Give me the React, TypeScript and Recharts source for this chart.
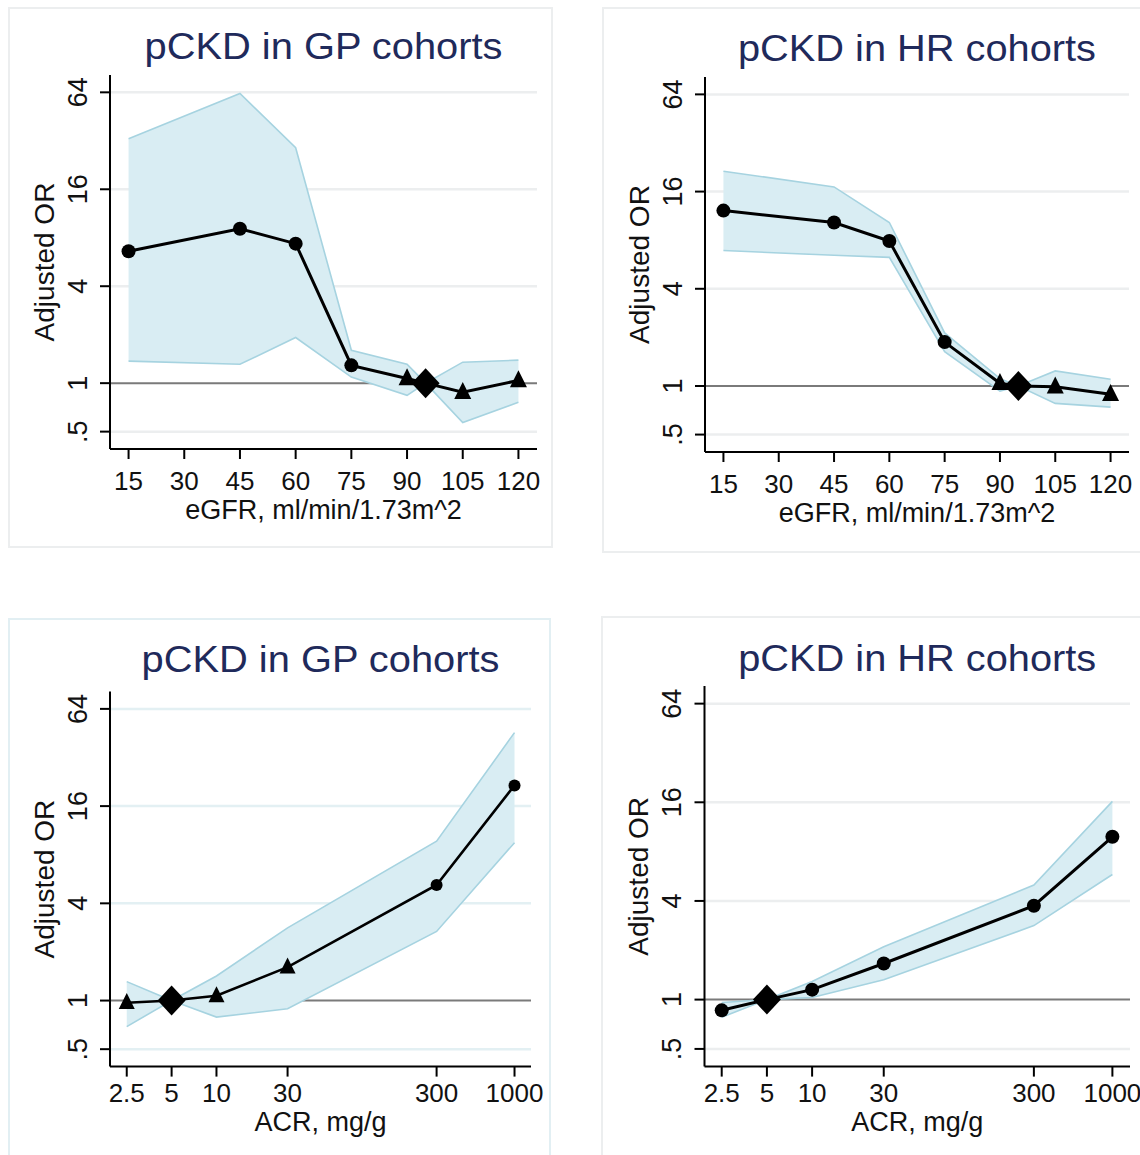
import React from 'react';
import { ComposedChart, Area, Line, XAxis, YAxis, CartesianGrid, Label } from 'recharts';

// eGFR panels (top row)
const egfrPoints = [15, 45, 60, 75, 90, 95, 105, 120];
const egfrMarkers = ['circle', 'circle', 'circle', 'circle', 'triangle', 'diamond', 'triangle', 'triangle'];
const gpEgfrOr = [6.6, 9.1, 7.35, 1.29, 1.07, 1, 0.88, 1.04];
const gpEgfrLow = [1.37, 1.31, 1.92, 1.09, 0.84, 1, 0.57, 0.76];
const gpEgfrHigh = [33, 63, 29, 1.6, 1.31, 1, 1.35, 1.39];
const hrEgfrOr = [12.2, 10.3, 7.9, 1.87, 1.04, 1, 0.99, 0.89];
const hrEgfrLow = [6.9, 6.45, 6.26, 1.63, 0.93, 1, 0.78, 0.74];
const hrEgfrHigh = [21.4, 17.1, 10.3, 2.13, 1.11, 1, 1.24, 1.1];

// ACR panels (bottom row)
const acrPoints = [2.5, 5, 10, 30, 300, 1000];
const gpAcrMarkers = ['triangle', 'diamond', 'triangle', 'triangle', 'circle', 'circle'];
const hrAcrMarkers = ['circle', 'diamond', 'circle', 'circle', 'circle', 'circle'];
const gpAcrOr = [0.97, 1, 1.07, 1.61, 5.2, 21.5];
const gpAcrLow = [0.69, 1, 0.79, 0.89, 2.68, 9.5];
const gpAcrHigh = [1.31, 1, 1.42, 2.82, 9.7, 45.6];
const hrAcrOr = [0.86, 1, 1.15, 1.66, 3.74, 9.85];
const hrAcrLow = [0.78, 1, 1.03, 1.32, 2.83, 5.8];
const hrAcrHigh = [0.96, 1, 1.29, 2.1, 5.0, 16.2];

const orTicks = [0.5, 1, 4, 16, 64];
const egfrTicks = [15, 30, 45, 60, 75, 90, 105, 120];
const acrTicks = [2.5, 5, 10, 30, 300, 1000];

const FONT = '"Liberation Sans", Arial, Helvetica, sans-serif';
const Y_W = 80;
const X_H = 80;

type Row = { x: number; or: number; band: [number, number]; marker: string };

function buildRows(xs: number[], ors: number[], lows: number[], highs: number[], markers: string[]): Row[] {
  return xs.map((x, i) => ({ x, or: ors[i], band: [lows[i], highs[i]], marker: markers[i] }));
}

const fmtOr = (v: number) => (v === 0.5 ? '.5' : String(v));

function makeDot(r: number, tri: number) {
  return (props: any) => {
    const { cx, cy, payload, index } = props;
    const key = `dot-${index}`;
    if (cx == null || cy == null) return <g key={key} />;
    if (payload.marker === 'diamond') {
      return (
        <polygon key={key} fill="#000"
          points={`${cx},${cy - 15} ${cx + 14},${cy} ${cx},${cy + 15} ${cx - 14},${cy}`} />
      );
    }
    if (payload.marker === 'triangle') {
      return (
        <polygon key={key} fill="#000"
          points={`${cx},${cy - tri * 0.6} ${cx + tri / 2},${cy + tri * 0.4} ${cx - tri / 2},${cy + tri * 0.4}`} />
      );
    }
    return <circle key={key} cx={cx} cy={cy} r={r} fill="#000" />;
  };
}

type Layout = {
  frame: { l: number; t: number; w: number; h: number };
  plot: { l: number; t: number; r: number; b: number };
  titleY: number;
  tickDy: number;
  labelDy: number;
};

type PanelProps = {
  title: string;
  xLabel: string;
  rows: Row[];
  xTicks: number[];
  xScale: 'linear' | 'log';
  xDomain: [number, number];
  layout: Layout;
  lineWidth: number;
  dotR: number;
  triSize: number;
  frameColor: string;
  gridColor: string;
};

function Panel({ title, xLabel, rows, xTicks, xScale, xDomain, layout, lineWidth, dotR, triSize, frameColor, gridColor }: PanelProps) {
  const { frame, plot } = layout;
  const plotL = plot.l - frame.l;
  const plotT = plot.t - frame.t;
  const plotR = plot.r - frame.l;
  const plotB = plot.b - frame.t;
  const margin = { left: plotL - Y_W, top: plotT, right: frame.w - plotR, bottom: frame.h - plotB - X_H };
  const centerX = (plotL + plotR) / 2;

  const xTick = (p: any) => (
    <text x={p.x} y={p.y} dy={layout.tickDy - 12} textAnchor="middle" fontSize={26} fill="#111">
      {p.payload.value}
    </text>
  );
  const yTick = (p: any) => {
    const bx = p.x - 11;
    return (
      <text x={bx} y={p.y} transform={`rotate(-90 ${bx} ${p.y})`} textAnchor="middle" fontSize={27} fill="#111">
        {fmtOr(p.payload.value)}
      </text>
    );
  };

  return (
    <div style={{ position: 'absolute', left: frame.l, top: frame.t, width: frame.w, height: frame.h }}>
      <div style={{ position: 'absolute', inset: 0, border: `2px solid ${frameColor}`, boxSizing: 'border-box' }} />
      <div style={{ position: 'absolute', left: 0, top: 0 }}>
        <ComposedChart width={frame.w} height={frame.h} data={rows} margin={margin}>
          <CartesianGrid vertical={false} horizontalValues={[0.5, 4, 16, 64]} stroke={gridColor} strokeWidth={2.5} />
          <CartesianGrid vertical={false} horizontalValues={[1]} stroke="#7a7a7a" strokeWidth={2} />
          <XAxis
            dataKey="x"
            type="number"
            scale={xScale}
            domain={xDomain}
            ticks={xTicks}
            interval={0}
            allowDataOverflow
            height={X_H}
            tickSize={10}
            axisLine={{ stroke: '#000', strokeWidth: 2 }}
            tickLine={{ stroke: '#000', strokeWidth: 2 }}
            tick={xTick}
          >
            <Label
              content={(p: any) => (
                <text x={p.viewBox.x + p.viewBox.width / 2} y={p.viewBox.y + layout.labelDy}
                  textAnchor="middle" fontSize={27} fill="#111">
                  {xLabel}
                </text>
              )}
            />
          </XAxis>
          <YAxis
            type="number"
            scale="log"
            domain={[0.39, 82]}
            ticks={orTicks}
            interval={0}
            allowDataOverflow
            width={Y_W}
            tickSize={10}
            axisLine={{ stroke: '#000', strokeWidth: 2 }}
            tickLine={{ stroke: '#000', strokeWidth: 2 }}
            tick={yTick}
          >
            <Label
              content={(p: any) => {
                const bx = p.viewBox.x + p.viewBox.width - 56;
                const cy = p.viewBox.y + p.viewBox.height / 2;
                return (
                  <text x={bx} y={cy} transform={`rotate(-90 ${bx} ${cy})`} textAnchor="middle" fontSize={28} fill="#111">
                    Adjusted OR
                  </text>
                );
              }}
            />
          </YAxis>
          <Area
            type="linear"
            dataKey="band"
            fill="#d9edf3"
            fillOpacity={1}
            stroke="#a6d3e0"
            strokeWidth={1.6}
            dot={false}
            activeDot={false}
            isAnimationActive={false}
          />
          <Line
            type="linear"
            dataKey="or"
            stroke="#000"
            strokeWidth={lineWidth}
            dot={makeDot(dotR, triSize)}
            activeDot={false}
            isAnimationActive={false}
          />
        </ComposedChart>
      </div>
      <svg width={frame.w} height={frame.h} style={{ position: 'absolute', left: 0, top: 0, pointerEvents: 'none' }}>
        <text x={centerX} y={layout.titleY - frame.t} textAnchor="middle" fontSize={36} fill="#1f2a5b"
          textLength={358} lengthAdjust="spacingAndGlyphs">
          {title}
        </text>
      </svg>
    </div>
  );
}

const layoutGpEgfr: Layout = {
  frame: { l: 8, t: 7, w: 545, h: 541 },
  plot: { l: 110, t: 75, r: 537, b: 449 },
  titleY: 59, tickDy: 41, labelDy: 70,
};
const layoutHrEgfr: Layout = {
  frame: { l: 602, t: 7, w: 560, h: 546 },
  plot: { l: 705, t: 77, r: 1129, b: 452 },
  titleY: 61, tickDy: 41, labelDy: 70,
};
const layoutGpAcr: Layout = {
  frame: { l: 8, t: 618, w: 543, h: 560 },
  plot: { l: 110, t: 691.5, r: 531, b: 1066.6 },
  titleY: 672, tickDy: 35, labelDy: 64,
};
const layoutHrAcr: Layout = {
  frame: { l: 601, t: 616, w: 560, h: 560 },
  plot: { l: 704.5, t: 686, r: 1130, b: 1066.6 },
  titleY: 671, tickDy: 35, labelDy: 64,
};

export default function App() {
  return (
    <div style={{ position: 'absolute', left: 0, top: 0, width: 1140, height: 1155, overflow: 'hidden', background: '#fff', fontFamily: FONT }}>
      <Panel
        title="pCKD in GP cohorts" xLabel="eGFR, ml/min/1.73m^2"
        rows={buildRows(egfrPoints, gpEgfrOr, gpEgfrLow, gpEgfrHigh, egfrMarkers)}
        xTicks={egfrTicks} xScale="linear" xDomain={[10, 125]} layout={layoutGpEgfr}
        lineWidth={3} dotR={7} triSize={17} frameColor="#eceeef" gridColor="#eceeef"
      />
      <Panel
        title="pCKD in HR cohorts" xLabel="eGFR, ml/min/1.73m^2"
        rows={buildRows(egfrPoints, hrEgfrOr, hrEgfrLow, hrEgfrHigh, egfrMarkers)}
        xTicks={egfrTicks} xScale="linear" xDomain={[10, 125]} layout={layoutHrEgfr}
        lineWidth={3} dotR={7} triSize={17} frameColor="#eceeef" gridColor="#eceeef"
      />
      <Panel
        title="pCKD in GP cohorts" xLabel="ACR, mg/g"
        rows={buildRows(acrPoints, gpAcrOr, gpAcrLow, gpAcrHigh, gpAcrMarkers)}
        xTicks={acrTicks} xScale="log" xDomain={[1.93, 1290]} layout={layoutGpAcr}
        lineWidth={2.6} dotR={6} triSize={16} frameColor="#e2eff3" gridColor="#e3f0f3"
      />
      <Panel
        title="pCKD in HR cohorts" xLabel="ACR, mg/g"
        rows={buildRows(acrPoints, hrAcrOr, hrAcrLow, hrAcrHigh, hrAcrMarkers)}
        xTicks={acrTicks} xScale="log" xDomain={[1.92, 1310]} layout={layoutHrAcr}
        lineWidth={3} dotR={7} triSize={17} frameColor="#eceeef" gridColor="#eceeef"
      />
    </div>
  );
}
